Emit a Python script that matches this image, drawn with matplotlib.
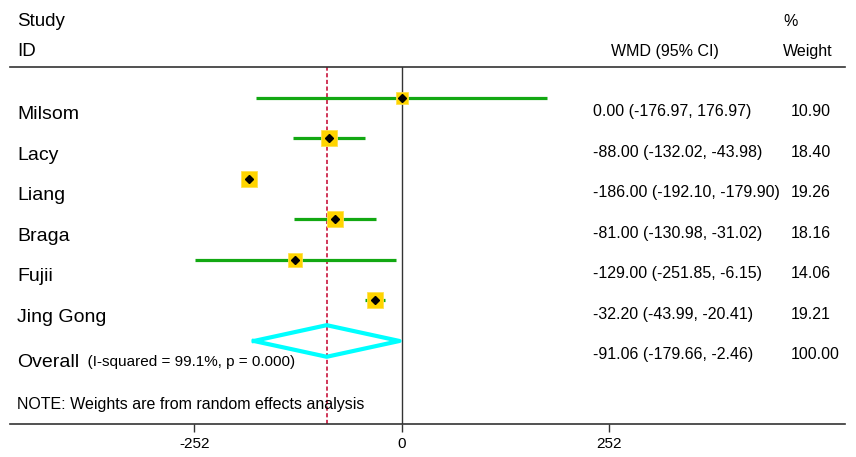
import matplotlib
matplotlib.use("Agg")
import numpy as np
import matplotlib.pyplot as plt
from matplotlib import transforms

plt.rcParams['font.family'] = ['Liberation Sans', 'DejaVu Sans']

# study data
studies = ["Milsom", "Lacy", "Liang", "Braga", "Fujii", "Jing Gong"]
wmd = [0.00, -88.00, -186.00, -81.00, -129.00, -32.20]
ci_low = [-176.97, -132.02, -192.10, -130.98, -251.85, -43.99]
ci_high = [176.97, -43.98, -179.90, -31.02, -6.15, -20.41]
weights = [10.90, 18.40, 19.26, 18.16, 14.06, 19.21]

# pooled estimate
pooled = -91.06
pooled_low = -179.66
pooled_high = -2.46
pooled_weight = 100.00
het_text = "(I-squared = 99.1%, p = 0.000)"
xticks = [-252, 0, 252]

W, H = 856, 457
fig = plt.figure(figsize=(W / 100, H / 100), dpi=100)

# plot area spans the whole width, between the header rule and the x axis
ax = fig.add_axes([10 / W, 1 - 424 / H, 835 / W, (424 - 67) / H])
ax.set_xlim(-476.3, 539.5)
ax.set_ylim(8.05, -0.765)
for s in ["left", "right"]:
    ax.spines[s].set_visible(False)
for s in ["top", "bottom"]:
    ax.spines[s].set_color("#333333")
    ax.spines[s].set_linewidth(1.2)
ax.set_yticks([])
ax.set_xticks(xticks)
ax.set_xticklabels([str(t) for t in xticks])
ax.tick_params(axis="x", direction="out", length=5.5, width=1, color="#333333",
               labelsize=11, pad=4)

rows = np.arange(len(studies))

ax.axvline(0, color="#333333", lw=1.0, zorder=1)
ax.axvline(pooled, color="#c8143c", lw=1.2, ls=(0, (2.5, 1.5)), zorder=1)

# confidence intervals, weight boxes and point estimates
ax.hlines(rows, ci_low, ci_high, color="#12a812", lw=2.3, zorder=2)
box = 11.5 * np.sqrt(np.array(weights) / max(weights))
for r, est, b in zip(rows, wmd, box):
    ax.plot(est, r, marker="s", ms=b, mfc="#ffd400", mec="#ffe14d", mew=0.6,
            ls="none", zorder=3)
ax.plot(wmd, rows, marker="D", ms=3.6, color="black", ls="none", zorder=4)

# overall diamond
yo = len(studies)
dx = [pooled_low, pooled, pooled_high, pooled, pooled_low]
dy = [yo, yo - 0.39, yo, yo + 0.39, yo]
ax.plot(dx, dy, color="#00ffff", lw=3, zorder=3, clip_on=False)

# text columns
tr = transforms.blended_transform_factory(fig.transFigure, ax.transData)
x_lab = 17 / W
x_ci = 593 / W
x_w = 791 / W

ax.text(x_lab, -1.877, "Study", transform=tr, fontsize=13.5, va="center")
ax.text(x_lab, -1.136, "ID", transform=tr, fontsize=13.5, va="center")
ax.text(611 / W, -1.136, "WMD (95% CI)", transform=tr, fontsize=11.5, va="center")
ax.text(783 / W, -1.877, "%", transform=tr, fontsize=11.5, va="center")
ax.text(783 / W, -1.136, "Weight", transform=tr, fontsize=11.5, va="center")

for r, name, est, lo, hi, w in zip(rows, studies, wmd, ci_low, ci_high, weights):
    ax.text(x_lab, r + 0.42, name, transform=tr, fontsize=14, va="center")
    ax.text(x_ci, r + 0.345, f"{est:.2f} ({lo:.2f}, {hi:.2f})", transform=tr,
            fontsize=11.5, va="center")
    ax.text(x_w, r + 0.345, f"{w:.2f}", transform=tr, fontsize=11.5, va="center")

t = ax.text(x_lab, yo + 0.52, "Overall", transform=tr, fontsize=14, va="center")
ax.annotate("  " + het_text, xycoords=t, xy=(1, 0.5), va="center", fontsize=11)
ax.text(x_ci, yo + 0.345, f"{pooled:.2f} ({pooled_low:.2f}, {pooled_high:.2f})",
        transform=tr, fontsize=11.5, va="center")
ax.text(x_w, yo + 0.345, f"{pooled_weight:.2f}", transform=tr,
        fontsize=11.5, va="center")

ax.text(x_lab, 7.58, "NOTE: Weights are from random effects analysis",
        transform=tr, fontsize=11.5, va="center")

fig.savefig("out.png", dpi=100)
